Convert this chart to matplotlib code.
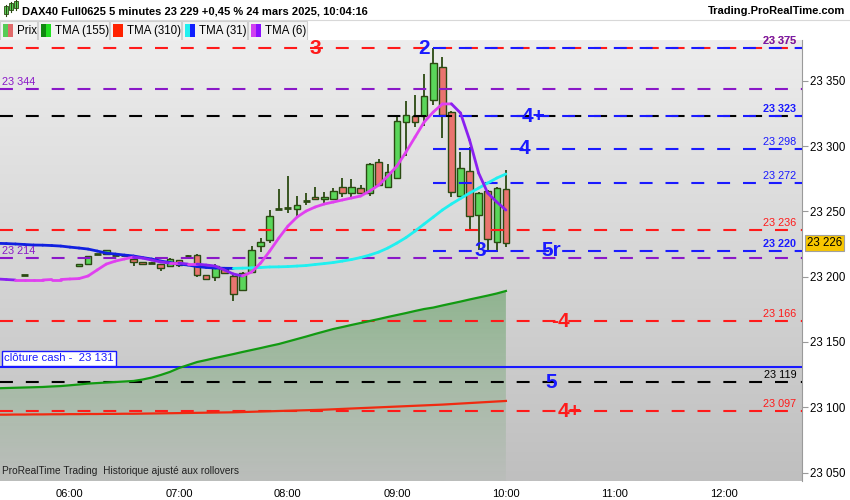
import numpy as np
import matplotlib.pyplot as plt
from matplotlib.collections import LineCollection
from matplotlib.patches import Rectangle, Polygon

plt.rcParams['font.family'] = ['Liberation Sans', 'DejaVu Sans']

# ---- data (5-minute bars, index 0 = 06:00) ----
bar_idx = [-5] + list(range(1, 49))
opens = [23201, 23208, 23209.6, 23217.3, 23217.3, 23217, 23216.5, 23213.5, 23211.2, 23210.4,
         23209.6, 23208.1, 23212.7, 23215.8, 23216.5, 23201.2, 23199.7, 23205.8, 23200.5, 23189.7,
         23203.5, 23223.4, 23228, 23251.8, 23252.5, 23251.8, 23257.9, 23261, 23259.4, 23259.4,
         23268.6, 23264, 23267.8, 23264, 23287.7, 23268.6, 23275.5, 23318.4, 23323, 23323,
         23335.2, 23360.5, 23326, 23261.7, 23280.9, 23247.2, 23265.5, 23226.5, 23267]
highs = [23201.3, 23210, 23216, 23217.6, 23220.4, 23217.5, 23217, 23214, 23211.4, 23211,
         23210, 23214, 23213, 23216.5, 23217, 23201.5, 23209.6, 23206.5, 23201, 23203.5,
         23223.4, 23229.6, 23251, 23267, 23277, 23261.7, 23264, 23268.6, 23264.8, 23267.8,
         23275.5, 23274.7, 23270, 23287, 23290, 23286.2, 23323, 23334.5, 23339, 23355,
         23375, 23368, 23326.5, 23295.4, 23299, 23265, 23266, 23268.6, 23281.6]
lows = [23200.7, 23208, 23209.6, 23217, 23217.3, 23216.5, 23216, 23208.1, 23209.4, 23210,
        23204.3, 23207.5, 23207.4, 23214.2, 23199.7, 23197.4, 23196.6, 23202.3, 23181.3, 23189,
        23202.8, 23218.8, 23225.7, 23251.5, 23248.7, 23245.6, 23254.8, 23259, 23256.4, 23259,
        23261, 23261, 23263.5, 23261.7, 23269.5, 23268, 23274.7, 23292.3, 23314.5, 23315.3,
        23331.4, 23306, 23261, 23261, 23235.7, 23220.4, 23218.8, 23218.8, 23222.7]
closes = [23201, 23209.6, 23215.8, 23217.3, 23220.4, 23216.8, 23216.5, 23211.2, 23209.6, 23210.6,
          23206.6, 23213.5, 23208.9, 23215.8, 23201.2, 23198.2, 23208.1, 23202.8, 23186.7, 23202.8,
          23220.4, 23226.5, 23246.4, 23251.8, 23252.5, 23254.8, 23257.9, 23259.4, 23261, 23265.5,
          23264, 23268.6, 23264, 23286.2, 23270.1, 23280, 23319, 23323.7, 23318.4, 23338.3,
          23363.6, 23323.7, 23264.8, 23283, 23246.4, 23264, 23228.8, 23267.8, 23226]

ma_idx = list(range(-8, 49))
tma6 = [23198.2, 23197.8, 23197.4, 23197.4, 23197.4, 23197.4, 23197.8, 23197.8, 23198.2, 23198.5,
        23200.5, 23205.1, 23209.6, 23211.9, 23213.5, 23215, 23214.2, 23212.7, 23211.2, 23210.4,
        23210.4, 23209.6, 23209.6, 23208.9, 23208.1, 23205.1, 23202, 23200.5, 23203.5, 23210.4,
        23219.6, 23229.6, 23238.7, 23245.6, 23250.2, 23253.3, 23255.6, 23257.1, 23258.7, 23260.2,
        23261.7, 23265.5, 23270.1, 23277, 23284.7, 23295.4, 23306.9, 23318.4, 23326, 23332.2,
        23332.3, 23325.3, 23304.6, 23279.3, 23264, 23257.1, 23251]
tma31 = [23225.5, 23225.3, 23225.0, 23224.6, 23224.2, 23224.1, 23223.8, 23223.4, 23222.6, 23221.9,
         23221.1, 23219.6, 23218.0, 23217.3, 23216.5, 23215.8, 23214.6, 23213.5, 23211.9, 23210.8,
         23209.6, 23208.9, 23207.7, 23207.0, 23206.6, 23206.4, 23206.3, 23206.5, 23206.7, 23207.0,
         23207.4, 23207.5, 23207.7, 23208.1, 23208.5, 23209.3, 23210.0, 23210.8, 23211.9, 23213.1,
         23214.6, 23216.5, 23218.8, 23221.9, 23225.7, 23229.9, 23234.9, 23240.3, 23245.6, 23251.0,
         23255.6, 23259.8, 23264.0, 23267.8, 23271.7, 23275.5, 23278.6]
tma155 = [23114.5, 23114.7, 23114.9, 23115.1, 23115.3, 23115.5, 23115.9, 23116.2, 23116.8, 23117.4,
          23118.1, 23118.5, 23118.9, 23119.3, 23119.7, 23120.1, 23121.2, 23122.7, 23124.7, 23127,
          23130, 23132.3, 23134.6, 23136.1, 23137.7, 23139.2, 23140.7, 23142.3, 23143.8, 23145.3,
          23146.9, 23148.4, 23150.3, 23152.2, 23154.1, 23156.1, 23158, 23159.9, 23161.4, 23163,
          23164.5, 23166, 23167.5, 23169.1, 23170.6, 23172.1, 23173.7, 23175.2, 23176.3, 23177.9,
          23179.4, 23180.9, 23182.5, 23184, 23185.5, 23187.1, 23189]
tma310 = [23094.3, 23094.3, 23094.4, 23094.4, 23094.5, 23094.5, 23094.6, 23094.6, 23094.7, 23094.7,
          23094.8, 23094.8, 23094.9, 23094.9, 23095.0, 23095.0, 23095.1, 23095.2, 23095.3, 23095.4,
          23095.5, 23095.6, 23095.7, 23095.8, 23095.9, 23096.0, 23096.1, 23096.3, 23096.5, 23096.7,
          23096.9, 23097.1, 23097.3, 23097.5, 23097.7, 23097.9, 23098.1, 23098.4, 23098.7, 23099.0,
          23099.3, 23099.6, 23099.9, 23100.2, 23100.5, 23100.8, 23101.1, 23101.4, 23101.7, 23102,
          23102.4, 23102.8, 23103.2, 23103.6, 23104, 23104.4, 23104.8]

# horizontal levels
red_levels = [23375, 23236, 23166, 23097]
purple_levels = [23344, 23214]
black_levels = [23323, 23119]
blue_levels = [23375, 23323, 23298, 23272, 23220]
blue_start = 40
cash_close = 23131
last_price = 23226

# big markers next to levels: (text, level, bar index)
blue_marks = [("2", 23375, 39), ("4+", 23323, 51), ("4", 23298, 50), ("3", 23220, 45.2),
              ("5r", 23220, 53), ("5", 23119, 53)]
red_marks = [("3", 23375, 27), ("-4", 23166, 54), ("4+", 23097, 55)]

hour_labels = ["06:00", "07:00", "08:00", "09:00", "10:00", "11:00", "12:00"]
y_ticks = [23050, 23100, 23150, 23200, 23250, 23300, 23350]

title = "DAX40 Full0625 5 minutes 23 229 +0,45 % 24 mars 2025, 10:04:16"

def fmt(v):
    return f"{v:,}".replace(",", " ")

BLUE = '#1a1aff'
RED = '#ff1a1a'
PURPLE = '#8a18c8'
WICK = '#2b4a12'
NARROW = ['Liberation Sans Narrow', 'Liberation Sans', 'DejaVu Sans']

fig = plt.figure(figsize=(8.5, 5), dpi=100)
fig.patch.set_facecolor('white')
ax = fig.add_axes([0, 19 / 500, 802 / 850, 441 / 500])

x0, x1 = -7.7, 80.6
y0, y1 = 23043.5, 23381.2
ax.set_xlim(x0, x1)
ax.set_ylim(y0, y1)

# background gradient (light at top, darker at bottom)
grad = np.linspace(0, 1, 256).reshape(-1, 1)
shade = (237 - 46 * grad) / 255
bg = np.dstack([shade, shade, shade])
ax.imshow(bg, extent=[x0, x1, y0, y1], aspect='auto', zorder=0, origin='upper')

# green area under TMA(155), gradient clipped to the area
mx = np.array(ma_idx, float)
m155 = np.array(tma155)
poly_pts = np.vstack([np.column_stack([mx, m155]), [[mx[-1], y0], [mx[0], y0]]])
poly = Polygon(poly_pts, closed=True, facecolor='none', edgecolor='none')
ax.add_patch(poly)
fillimg = np.zeros((256, 1, 4))
fillimg[..., 0] = 0.22
fillimg[..., 1] = 0.55
fillimg[..., 2] = 0.22
fillimg[..., 3] = 0.40 * (1 - grad) + 0.03
im = ax.imshow(fillimg, extent=[mx[0], mx[-1], y0, m155.max()], aspect='auto',
               zorder=1, origin='upper')
im.set_clip_path(poly)

# candles
for i, o, h, l, c in zip(bar_idx, opens, highs, lows, closes):
    ax.plot([i, i], [l, h], color=WICK, lw=1.3, zorder=2, solid_capstyle='butt')
    if abs(c - o) < 0.6:
        ax.plot([i - 0.38, i + 0.38], [c, c], color=WICK, lw=2.0, zorder=3,
                solid_capstyle='butt')
    else:
        face = '#5ad65a' if c > o else '#e9746f'
        ax.add_patch(Rectangle((i - 0.36, min(o, c)), 0.72, abs(c - o),
                               facecolor=face, edgecolor=WICK, lw=1.0, zorder=3))

# dashed levels
dash = dict(lw=1.5, dashes=(6.2, 6.2), zorder=4)
for v in red_levels:
    ax.plot([x0, x1], [v, v], color=RED, **dash)
for v in purple_levels:
    ax.plot([x0, x1], [v, v], color=PURPLE, **dash)
for v in black_levels:
    ax.plot([x0, x1], [v, v], color='black', **dash)
for v in blue_levels:
    ax.plot([blue_start, x1], [v, v], color=BLUE, **dash)
ax.axhline(cash_close, color=BLUE, lw=1.5, zorder=4)

# moving averages, coloured by slope
def slope_line(x, y, up, down, lw):
    x = np.asarray(x, float)
    y = np.asarray(y, float)
    pts = np.column_stack([x, y]).reshape(-1, 1, 2)
    segs = np.concatenate([pts[:-1], pts[1:]], axis=1)
    cols = [up if b >= a else down for a, b in zip(y[:-1], y[1:])]
    ax.add_collection(LineCollection(segs, colors=cols, linewidths=lw,
                                     capstyle='round', joinstyle='round', zorder=6))

ax.plot(ma_idx, tma310, color='#f02a10', lw=1.6, zorder=5)
ax.plot(ma_idx, tma155, color='#129a12', lw=1.6, zorder=5)
slope_line(ma_idx, tma31, '#20f0f0', '#1020e0', 2.0)
slope_line(ma_idx, tma6, '#e040f0', '#8a20f0', 2.0)

# level labels at the right edge
tr = ax.get_yaxis_transform()
right_labels = [(23375, RED, 'bold'), (23375, '#4020e0', 'bold'), (23323, BLUE, 'bold'),
                (23298, BLUE, 'normal'), (23272, BLUE, 'normal'), (23236, RED, 'normal'),
                (23220, BLUE, 'bold'), (23166, RED, 'normal'), (23119, 'black', 'normal'),
                (23097, RED, 'normal')]
for v, col, wt in right_labels:
    ax.text(0.993, v + 1.5, fmt(v), transform=tr, ha='right', va='bottom',
            color=col, fontsize=7.8, fontweight=wt, zorder=7,
            alpha=0.75 if col == '#4020e0' else 1)
for v in purple_levels:
    ax.text(0.003, v + 1.5, fmt(v), transform=tr, ha='left', va='bottom',
            color=PURPLE, fontsize=7.8, zorder=7)

ax.text(0.005, cash_close + 2.6, f"clôture cash -  {fmt(cash_close)}", transform=tr,
        ha='left', va='bottom', color=BLUE, fontsize=8.2, zorder=8,
        bbox=dict(boxstyle='square,pad=0.22', facecolor='white', edgecolor=BLUE, lw=1.0))

for t, v, i in blue_marks:
    ax.text(i, v, t, color=BLUE, fontsize=15, fontweight='bold', ha='center',
            va='center', zorder=8)
for t, v, i in red_marks:
    ax.text(i, v, t, color=RED, fontsize=15, fontweight='bold', ha='center',
            va='center', zorder=8)

ax.text(0.003, 0.012, "ProRealTime Trading  Historique ajusté aux rollovers",
        transform=ax.transAxes, fontsize=7.3, color='#222222', ha='left', va='bottom',
        family=NARROW, zorder=8)

# axes styling
for s in ['top', 'left', 'bottom']:
    ax.spines[s].set_visible(False)
ax.spines['right'].set_color('#9a9a9a')
ax.yaxis.tick_right()
ax.set_yticks(y_ticks)
ax.set_yticklabels([fmt(v) for v in y_ticks], fontsize=8.3)
ax.set_xticks([12 * k for k in range(len(hour_labels))])
ax.set_xticklabels(hour_labels, fontsize=8, family=NARROW)
ax.tick_params(axis='y', length=4, color='#9a9a9a', pad=2)
ax.tick_params(axis='x', length=0, pad=6)

ax.text(1.006, last_price, fmt(last_price), transform=tr, ha='left', va='center',
        fontsize=8.3, zorder=9,
        bbox=dict(boxstyle='square,pad=0.18', facecolor='#f7c600', edgecolor='#a0a0a0', lw=0.8))

# header and legend row (pixel coordinates)
ui = fig.add_axes([0, 0, 1, 1], zorder=-1)
ui.set_xlim(0, 850)
ui.set_ylim(500, 0)
ui.axis('off')
for xx, y_top, y_bot in [(6, 6, 14), (11, 3, 10), (16, 1, 8)]:
    ui.plot([xx, xx], [y_top - 1.5, y_bot + 1.5], color=WICK, lw=0.8)
    ui.add_patch(Rectangle((xx - 1.8, y_top), 3.6, y_bot - y_top, facecolor='#5ad65a',
                           edgecolor=WICK, lw=0.6))
ui.text(22, 11, title, fontsize=8, fontweight='bold', va='center', ha='left')
ui.text(845, 11, "Trading.ProRealTime.com", fontsize=8, fontweight='bold',
        va='center', ha='right')
ui.plot([0, 850], [19.5, 19.5], color='#d8d8d8', lw=0.8)

legend_cells = [("Prix", 0, 37, ('#55cc55', '#e06a6a')),
                ("TMA (155)", 38, 109, ('#118811', '#22e022')),
                ("TMA (310)", 110, 181, ('#ff2200', '#ff2200')),
                ("TMA (31)", 182, 247, ('#22f0f0', '#1020ff')),
                ("TMA (6)", 248, 307, ('#d040f0', '#8a10ff'))]
for name, cx0, cx1, (c1, c2) in legend_cells:
    ui.add_patch(Rectangle((cx0, 21), cx1 - cx0, 19, facecolor='#f2f2f2',
                           edgecolor='#cfcfcf', lw=0.8))
    ui.add_patch(Rectangle((cx0 + 3, 24), 5, 13, facecolor=c1, edgecolor='none'))
    ui.add_patch(Rectangle((cx0 + 8, 24), 5, 13, facecolor=c2, edgecolor='none'))
    ui.text(cx0 + 17, 31, name, fontsize=8.3, va='center', ha='left')

fig.savefig('out.png', dpi=100)
